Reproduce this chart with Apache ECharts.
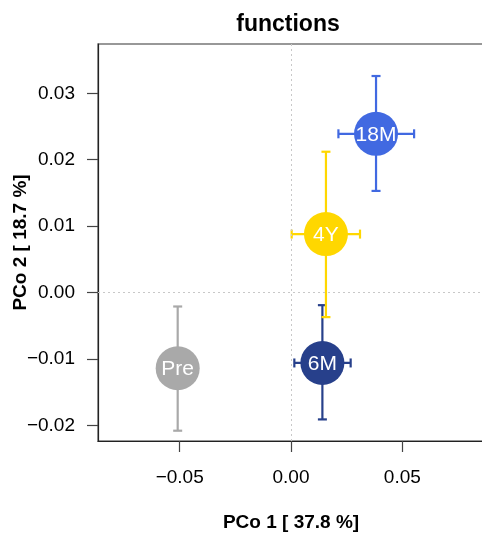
<!DOCTYPE html>
<html><head><meta charset="utf-8">
<script src="https://cdn.jsdelivr.net/npm/echarts@6/dist/echarts.min.js"></script>
<style>html,body{margin:0;padding:0;background:#fff}#c{width:482px;height:533px}</style>
</head><body><div id="c"></div>
<script>
const groups = ['Pre', '6M', '18M', '4Y'];
const pco1 = [-0.0509, 0.0141, 0.0382, 0.0157];
const pco2 = [-0.0114, -0.0106, 0.0239, 0.0088];
const pco1Low = [-0.0509, 0.0015, 0.0213, 0.0003];
const pco1High = [-0.0509, 0.0268, 0.0553, 0.0310];
const pco2Low = [-0.0208, -0.0191, 0.0153, -0.0037];
const pco2High = [-0.0021, -0.0019, 0.0326, 0.0212];
const colors = ['#A9A9A9', '#27408B', '#4169E1', '#FFD700'];
const xTicks = [-0.05, 0, 0.05];
const yTicks = [-0.02, -0.01, 0, 0.01, 0.02, 0.03];

const font = 'Liberation Sans, Arial, Helvetica, sans-serif';
const fmt = v => (v < 0 ? '\u2212' : '') + Math.abs(v).toFixed(2);

const data = groups.map((g, i) => [pco1[i], pco2[i], pco1Low[i], pco1High[i], pco2Low[i], pco2High[i], i]);

function renderItem(params, api) {
  const i = api.value(6);
  const c = colors[i];
  const p = api.coord([api.value(0), api.value(1)]);
  const xl = api.coord([api.value(2), api.value(1)]);
  const xh = api.coord([api.value(3), api.value(1)]);
  const yl = api.coord([api.value(0), api.value(4)]);
  const yh = api.coord([api.value(0), api.value(5)]);
  const cap = 4.5;
  const st = { stroke: c, lineWidth: 2.2 };
  const children = [];
  children.push({ type: 'line', shape: { x1: p[0], y1: yl[1], x2: p[0], y2: yh[1] }, style: st });
  children.push({ type: 'line', shape: { x1: p[0] - cap, y1: yl[1], x2: p[0] + cap, y2: yl[1] }, style: st });
  children.push({ type: 'line', shape: { x1: p[0] - cap, y1: yh[1], x2: p[0] + cap, y2: yh[1] }, style: st });
  if (Math.abs(xh[0] - xl[0]) > 1) {
    children.push({ type: 'line', shape: { x1: xl[0], y1: p[1], x2: xh[0], y2: p[1] }, style: st });
    children.push({ type: 'line', shape: { x1: xl[0], y1: p[1] - cap, x2: xl[0], y2: p[1] + cap }, style: st });
    children.push({ type: 'line', shape: { x1: xh[0], y1: p[1] - cap, x2: xh[0], y2: p[1] + cap }, style: st });
  }
  children.push({ type: 'circle', shape: { cx: p[0], cy: p[1], r: 22 }, style: { fill: c } });
  children.push({ type: 'text', x: p[0], y: p[1] + 1, style: { text: groups[i], fill: '#fff', font: '21px ' + font, align: 'center', verticalAlign: 'middle' } });
  return { type: 'group', children };
}

const chart = echarts.init(document.getElementById('c'), null, { renderer: 'canvas' });
chart.setOption({
  animation: false,
  backgroundColor: '#fff',
  title: {
    text: 'functions', left: 283, top: 8,
    textAlign: 'center',
    textStyle: { fontFamily: font, fontSize: 23, fontWeight: 'bold', color: '#000' }
  },
  grid: { left: 98, top: 44, width: 386, height: 397, show: true, borderColor: '#777', borderWidth: 1.5, outerBoundsMode: 'none', containLabel: false },
  xAxis: {
    type: 'value', min: -0.0867, max: 0.0867,
    name: 'PCo 1 [ 37.8 %]', nameLocation: 'middle', nameGap: 72, nameMoveOverlap: false,
    nameTextStyle: { fontFamily: font, fontSize: 19, fontWeight: 'bold', color: '#000' },
    axisLine: { show: true, onZero: false, lineStyle: { color: '#222', width: 1.2 } },
    axisTick: { show: true, length: 11, inside: false, customValues: xTicks, lineStyle: { color: '#444', width: 1.2 } },
    axisLabel: { customValues: xTicks, formatter: fmt, margin: 27, fontFamily: font, fontSize: 19, color: '#000' },
    splitLine: { show: false }
  },
  yAxis: {
    type: 'value', min: -0.02235, max: 0.03742,
    name: 'PCo 2 [ 18.7 %]', nameLocation: 'middle', nameGap: 68, nameRotate: 90, nameMoveOverlap: false,
    nameTextStyle: { fontFamily: font, fontSize: 19, fontWeight: 'bold', color: '#000' },
    axisLine: { show: true, onZero: false, lineStyle: { color: '#222', width: 1.2 } },
    axisTick: { show: true, length: 11, inside: false, customValues: yTicks, lineStyle: { color: '#444', width: 1.2 } },
    axisLabel: { customValues: yTicks, formatter: fmt, margin: 23, fontFamily: font, fontSize: 19, color: '#000' },
    splitLine: { show: false }
  },
  series: [
    {
      type: 'custom', renderItem, data,
      encode: { x: [0, 2, 3], y: [1, 4, 5] },
      markLine: {
        silent: true, symbol: 'none', label: { show: false },
        lineStyle: { color: '#c8c8c8', type: [2, 3], width: 1 },
        data: [{ xAxis: 0 }, { yAxis: 0 }]
      },
      z: 2
    }
  ]
});
</script></body></html>
